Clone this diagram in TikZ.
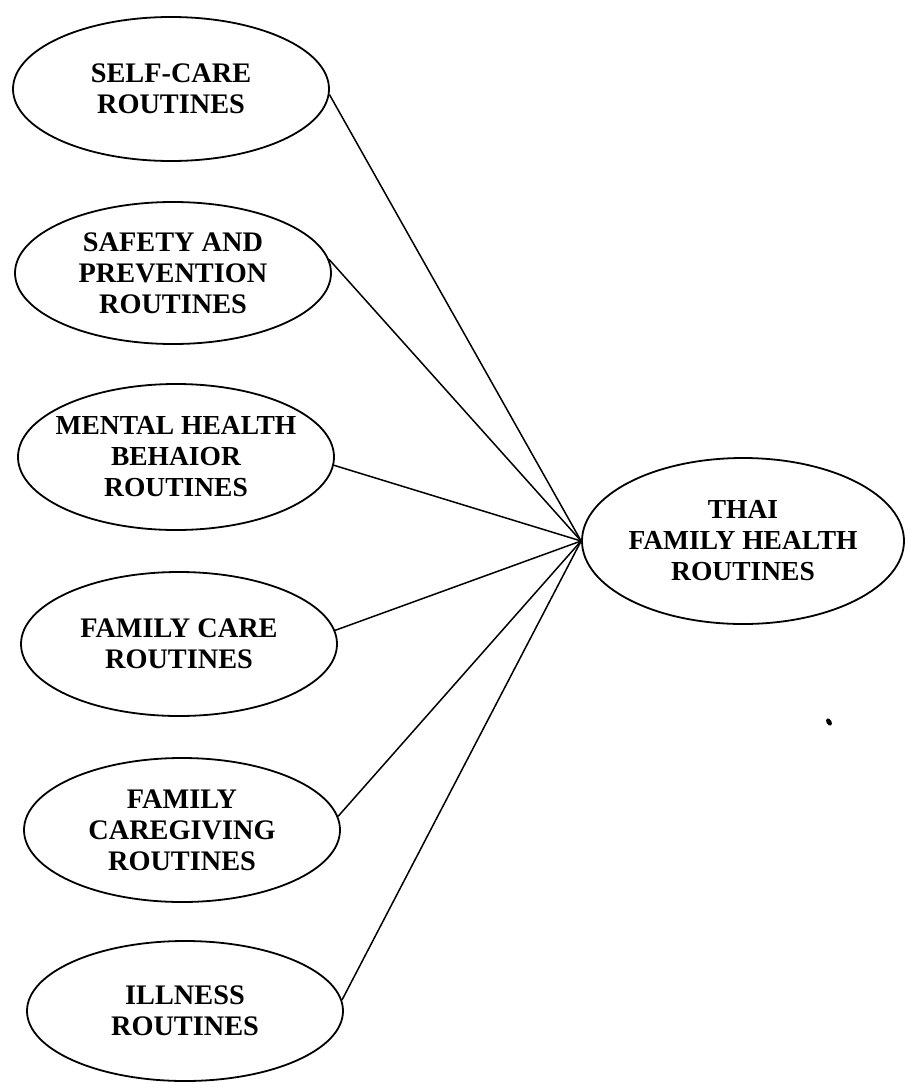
\documentclass[tikz,border=0pt]{standalone}
\usepackage{fontspec}
\setmainfont{Liberation Serif}
\usetikzlibrary{shapes.geometric}
\begin{document}
\begin{tikzpicture}[x=1pt,y=-1pt,
  oval/.style={draw, line width=1.8pt, ellipse, minimum width=316pt, minimum height=144pt,
    inner xsep=-40pt, inner ysep=-15pt, align=center,
    font=\bfseries\fontsize{28.3}{31}\selectfont},
  link/.style={line width=1.5pt}]
\useasboundingbox (0,0) rectangle (907,1082);
\node[oval] (e1) at (171,89) {SELF-CARE\\ROUTINES};
\node[oval, minimum height=142pt] (e2) at (173,273) {SAFETY AND\\PREVENTION\\ROUTINES};
\node[oval, minimum height=146pt, font=\bfseries\fontsize{27.5}{31}\selectfont] (e3) at (176,457) {MENTAL HEALTH\\BEHAIOR\\ROUTINES};
\node[oval] (e4) at (179,644) {FAMILY CARE\\ROUTINES};
\node[oval] (e5) at (182,830) {FAMILY\\CAREGIVING\\ROUTINES};
\node[oval, minimum height=140pt] (e6) at (185,1011) {ILLNESS\\ROUTINES};
\node[oval, minimum width=322pt, minimum height=166pt, font=\bfseries\fontsize{27.5}{31}\selectfont] (t) at (743,541) {THAI\\FAMILY HEALTH\\ROUTINES};
\draw[link] (e1.-2) -- (t.west);
\draw[link] (e2.5) -- (t.west);
\draw[link] (e3.-3) -- (t.west);
\draw[link] (e4.5) -- (t.west);
\draw[link] (e5.5.5) -- (t.west);
\draw[link] (e6.4) -- (t.west);
\fill[rotate around={30:(829,722)}] (829,722) ellipse (2.5pt and 4pt);
\end{tikzpicture}
\end{document}
